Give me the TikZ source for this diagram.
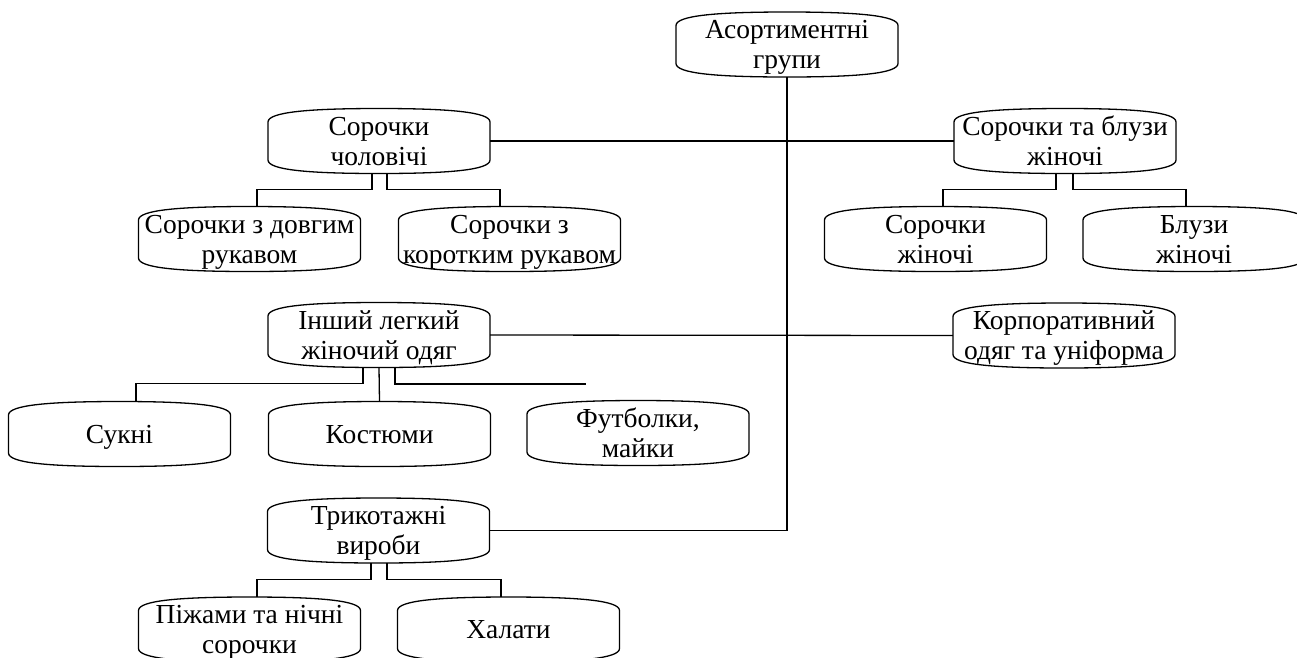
\documentclass[tikz,border=0pt]{standalone}
\usepackage{fontspec}
\setmainfont{Liberation Serif}
\usepackage{tikz}
\usetikzlibrary{shapes,arrows}
\tikzstyle{grp} = [inner sep=0pt, minimum width=222pt, minimum height=65pt, align=center,
    font=\fontsize{27.5}{30}\selectfont, text depth=0pt]
\tikzstyle{single} = [text height=22pt, text depth=4pt]
\tikzstyle{line} = [draw, line width=1.3pt]
\tikzstyle{outline} = [draw, line width=1.3pt]
% rounded box with bulging top and bottom
\newcommand{\grpoutline}[1]{%
  \draw [outline] ([shift={(-111pt,-19pt)}]#1.center) -- ([shift={(-111pt,19pt)}]#1.center)
    .. controls ([shift={(-111pt,29pt)}]#1.center) and ([shift={(-70pt,32.5pt)}]#1.center) .. ([shift={(0pt,32.5pt)}]#1.center)
    .. controls ([shift={(70pt,32.5pt)}]#1.center) and ([shift={(111pt,29pt)}]#1.center) .. ([shift={(111pt,19pt)}]#1.center)
    -- ([shift={(111pt,-19pt)}]#1.center)
    .. controls ([shift={(111pt,-29pt)}]#1.center) and ([shift={(70pt,-32.5pt)}]#1.center) .. ([shift={(0pt,-32.5pt)}]#1.center)
    .. controls ([shift={(-70pt,-32.5pt)}]#1.center) and ([shift={(-111pt,-29pt)}]#1.center) .. cycle;}

\begin{document}
\begin{tikzpicture}[x=1pt, y=-1pt]
    \useasboundingbox (0,0) rectangle (1297,657);
    % Place nodes
    \node [grp] (ag) at (787,44.5) {Асортиментні\\групи};
    \node [grp] (sc) at (379,141) {Сорочки\\чоловічі};
    \node [grp] (sbz) at (1065,141) {Сорочки та блузи\\жіночі};
    \node [grp] (sdr) at (249.5,239) {Сорочки з довгим\\рукавом};
    \node [grp] (skr) at (509.5,239) {Сорочки з\\коротким рукавом};
    \node [grp] (szh) at (935.5,239) {Сорочки\\жіночі};
    \node [grp] (bzh) at (1194,239) {Блузи\\жіночі};
    \node [grp] (ilz) at (379,335) {Інший легкий\\жіночий одяг};
    \node [grp] (korp) at (1064,335.5) {Корпоративний\\одяг та уніформа};
    \node [grp, single] (sukni) at (119.5,434) {Сукні};
    \node [grp, single] (kost) at (379.5,434) {Костюми};
    \node [grp] (futb) at (638,433) {Футболки,\\майки};
    \node [grp] (tv) at (378.5,530.5) {Трикотажні\\вироби};
    \node [grp] (pizh) at (249.5,629.5) {Піжами та нічні\\сорочки};
    \node [grp, single] (khal) at (508.5,629.5) {Халати};
    \coordinate (fend) at (586,384);

    % Draw outlines
    \foreach \n in {ag,sc,sbz,sdr,skr,szh,bzh,ilz,korp,sukni,kost,futb,tv,pizh,khal}
        \grpoutline{\n};

    % Draw edges
    \path [line] (ag.south) |- (tv.east);
    \path [line] (sc.east) -- (sbz.west);
    \path [line] (ilz.east) -- (korp.west);
    \path [line] ([xshift=-7pt]sc.south) -- ++(0,16) -| ([xshift=7.5pt]sdr.north);
    \path [line] ([xshift=8pt]sc.south) -- ++(0,16) -| ([xshift=-9.5pt]skr.north);
    \path [line] ([xshift=-9pt]sbz.south) -- ++(0,16) -| ([xshift=7.5pt]szh.north);
    \path [line] ([xshift=8pt]sbz.south) -- ++(0,16) -| ([xshift=-8pt]bzh.north);
    \path [line] ([xshift=-16pt]ilz.south) -- ++(0,16) -| ([xshift=16.5pt]sukni.north);
    \path [line] (ilz.south) -- (kost.north);
    \path [line] ([xshift=16pt]ilz.south) |- (fend);
    \path [line] ([xshift=-7.5pt]tv.south) -- ++(0,16) -| ([xshift=7.5pt]pizh.north);
    \path [line] ([xshift=8.5pt]tv.south) -- ++(0,16) -| ([xshift=-7.5pt]khal.north);
\end{tikzpicture}
\end{document}
